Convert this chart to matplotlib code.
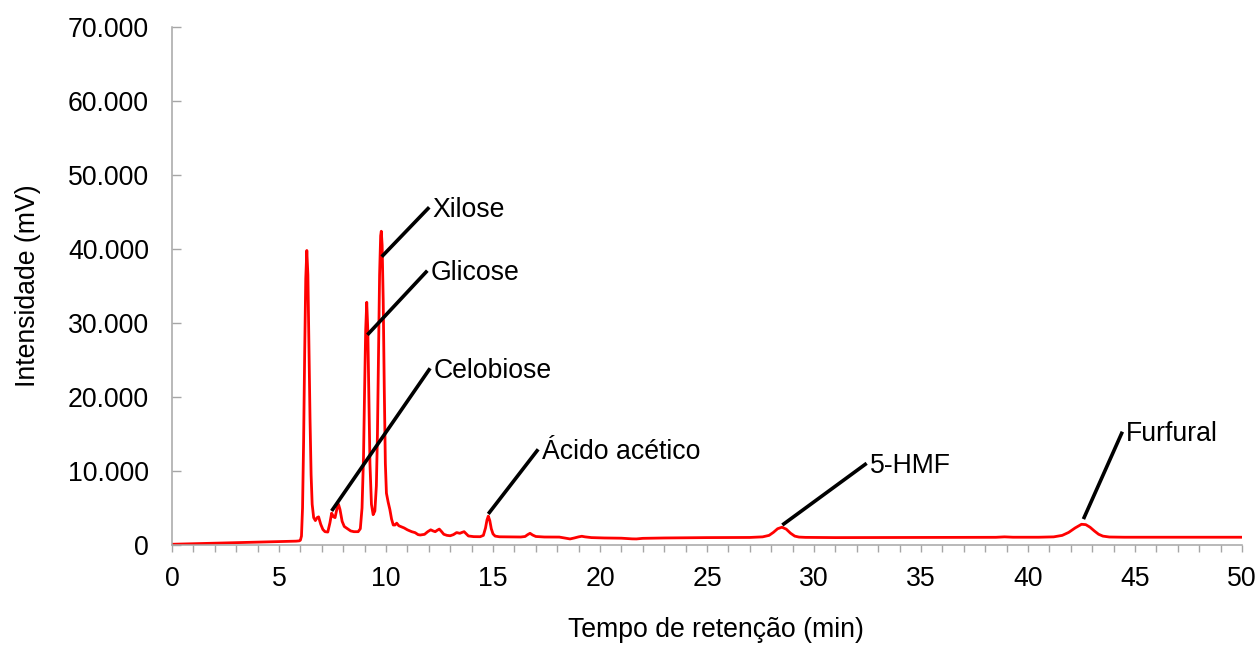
import matplotlib
matplotlib.use("Agg")
import matplotlib.pyplot as plt
from matplotlib.ticker import MultipleLocator, FuncFormatter

# Chromatogram trace: retention time (min) and detector signal (mV)
retention_time = [
    0.0, 1.0, 2.0, 3.0, 4.0, 5.0, 5.8, 5.95,
    6.00, 6.05, 6.10, 6.15, 6.20, 6.25, 6.30, 6.35, 6.40, 6.45, 6.50, 6.55,
    6.62, 6.70, 6.78, 6.85, 6.95, 7.05, 7.15, 7.28, 7.38, 7.46, 7.55, 7.62,
    7.70, 7.78, 7.85, 7.95, 8.05, 8.20, 8.35, 8.50, 8.70, 8.80, 8.88, 8.95,
    9.00, 9.05, 9.10, 9.15, 9.20, 9.25, 9.32, 9.40, 9.48, 9.55, 9.60, 9.65,
    9.70, 9.75, 9.78, 9.82, 9.87, 9.92, 9.97, 10.02, 10.10, 10.18, 10.26,
    10.34, 10.42, 10.50, 10.60, 10.70, 10.85, 11.00, 11.20, 11.36, 11.50,
    11.60, 11.80, 11.95, 12.09, 12.20, 12.30, 12.40, 12.49, 12.60, 12.70,
    12.85, 13.00, 13.15, 13.30, 13.45, 13.55, 13.65, 13.75, 13.85, 14.10,
    14.40, 14.55, 14.65, 14.72, 14.78, 14.85, 14.92, 15.00, 15.10, 15.30,
    15.80, 16.30, 16.50, 16.62, 16.73, 16.85, 17.00, 17.40, 17.80, 18.10,
    18.35, 18.60, 18.80, 19.00, 19.15, 19.30, 19.60, 20.20, 21.00, 21.50,
    21.70, 22.00, 23.0, 25.0, 27.0, 27.6, 27.9, 28.1, 28.3, 28.5, 28.7,
    28.9, 29.1, 29.3, 29.6, 31.0, 33.0, 35.0, 37.0, 38.5, 38.9, 39.3, 40.5,
    41.2, 41.6, 41.9, 42.2, 42.5, 42.7, 42.9, 43.1, 43.3, 43.5, 43.8, 44.5,
    46.0, 48.0, 50.0,
]
intensity = [
    100, 170, 240, 310, 380, 450, 520, 560,
    650, 1200, 5000, 14000, 26000, 36000, 39800, 36500, 27000, 17000, 9500, 5500,
    3700, 3300, 3700, 3800, 2800, 2100, 1800, 1750, 3000, 4300, 3800, 3700,
    4800, 5500, 4800, 3200, 2500, 2200, 1900, 1800, 1800, 2200, 5000, 12000,
    21000, 29000, 32800, 29000, 20000, 11000, 5500, 4100, 4600, 8000, 15000, 26000,
    36500, 41800, 42400, 40500, 33000, 21000, 11000, 7000, 5800, 4800, 3500,
    2700, 2700, 2950, 2600, 2480, 2300, 2050, 1800, 1670, 1400,
    1350, 1440, 1800, 2050, 1900, 1800, 2000, 2150, 1800, 1450,
    1300, 1250, 1400, 1680, 1580, 1700, 1800, 1500, 1220, 1130,
    1120, 1300, 2300, 3400, 3900, 3300, 2200, 1500, 1200, 1110,
    1090, 1080, 1150, 1400, 1580, 1350, 1150, 1080, 1080, 1070,
    950, 820, 950, 1100, 1180, 1100, 1000, 950, 920, 830,
    820, 900, 950, 1000, 1020, 1100, 1300, 1700, 2200, 2400, 2150,
    1600, 1200, 1070, 1030, 1000, 1010, 1020, 1030, 1040, 1100, 1050, 1050,
    1100, 1300, 1700, 2300, 2800, 2750, 2400, 1900, 1450, 1200, 1080, 1050,
    1050, 1050, 1050,
]

# Identified compounds: peak point, and where each label sits
compounds = ["Xilose", "Glicose", "Celobiose", "Ácido acético", "5-HMF", "Furfural"]
peak_time = [9.80, 9.13, 7.46, 14.78, 28.52, 42.59]
peak_signal = [38960, 28400, 4600, 4200, 2700, 3500]
label_time = [12.02, 11.93, 12.06, 17.11, 32.46, 44.41]
label_signal = [45640, 37070, 23880, 12930, 11040, 15310]

plt.rcParams["font.family"] = ["Liberation Sans", "DejaVu Sans"]
FS = 19.2
GRAY = "#a6a6a6"

fig = plt.figure(figsize=(12.59, 6.45), dpi=100)
ax = fig.add_axes([172 / 1259, 100 / 645, 1070 / 1259, 518 / 645])

ax.plot(retention_time, intensity, color="#ff0000", lw=2.0, solid_joinstyle="round")

for name, pt, ps, lt, ls in zip(compounds, peak_time, peak_signal, label_time, label_signal):
    ax.plot([pt, lt], [ps, ls], color="black", lw=2.6, solid_capstyle="butt")
    ax.annotate(name, xy=(lt, ls), xytext=(2.5, -6.9), textcoords="offset points",
                ha="left", va="baseline", fontsize=FS, color="black")

ax.set_xlim(0, 50)
ax.set_ylim(0, 70000)
ax.xaxis.set_major_locator(MultipleLocator(5))
ax.xaxis.set_minor_locator(MultipleLocator(1))
ax.yaxis.set_major_locator(MultipleLocator(10000))


def thousands(v, _pos):
    return f"{int(round(v)):,}".replace(",", ".")


ax.yaxis.set_major_formatter(FuncFormatter(thousands))

for side in ("top", "right"):
    ax.spines[side].set_visible(False)
for side in ("left", "bottom"):
    ax.spines[side].set_color(GRAY)
    ax.spines[side].set_linewidth(1.1)

ax.tick_params(axis="x", which="both", direction="out", length=4.8, width=1.0,
               color=GRAY, labelsize=FS, pad=10.5)
ax.tick_params(axis="y", which="major", direction="in", length=6.2, width=1.0,
               color=GRAY, labelsize=FS, pad=16.5)

ax.set_xlabel("Tempo de retenção (min)", fontsize=FS)
ax.xaxis.set_label_coords(0.508, -0.164)
ax.xaxis.label.set_va("center")
ax.set_ylabel("Intensidade (mV)", fontsize=FS)
ax.yaxis.set_label_coords(-0.1346, 0.5)
ax.yaxis.label.set_va("center")

fig.savefig("out.png", dpi=100)
